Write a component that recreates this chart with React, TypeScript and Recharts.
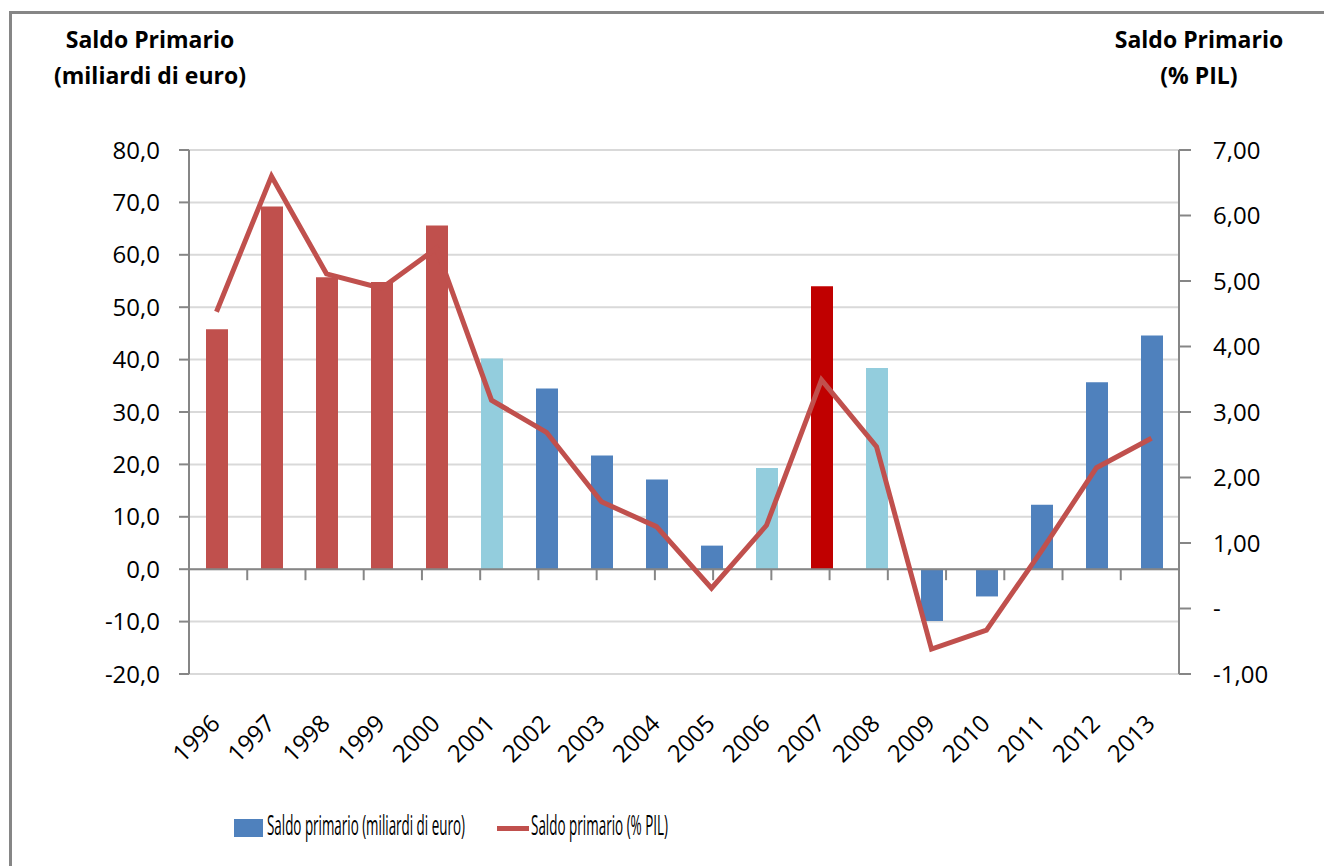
import React, { useLayoutEffect, useRef, useState } from "react";
import {
  ComposedChart,
  Bar,
  Line,
  XAxis,
  YAxis,
  CartesianGrid,
  ReferenceLine,
  Legend,
  Cell,
} from "recharts";

// Anni e valori
const years = [
  "1996", "1997", "1998", "1999", "2000", "2001", "2002", "2003", "2004",
  "2005", "2006", "2007", "2008", "2009", "2010", "2011", "2012", "2013",
];
const saldoMld = [
  45.8, 69.2, 55.7, 54.8, 65.6, 40.2, 34.5, 21.7, 17.1,
  4.5, 19.3, 54.0, 38.4, -9.9, -5.2, 12.3, 35.7, 44.6,
];
const saldoPil = [
  4.53, 6.6, 5.11, 4.89, 5.5, 3.18, 2.69, 1.63, 1.25,
  0.31, 1.27, 3.49, 2.47, -0.62, -0.33, 0.88, 2.15, 2.6,
];
// colore di ogni barra
const barGroup = [
  "r", "r", "r", "r", "r", "lb", "b", "b", "b",
  "b", "lb", "dr", "lb", "b", "b", "b", "b", "b",
];
const leftTicks = [-20, -10, 0, 10, 20, 30, 40, 50, 60, 70, 80];
const rightTicks = [-1, 0, 1, 2, 3, 4, 5, 6, 7];

const GROUP_COLORS: Record<string, string> = {
  r: "#c0504d",
  lb: "#93cddd",
  b: "#4f81bd",
  dr: "#c00000",
};
const LINE_COLOR = "#c0504d";
const AXIS_COLOR = "#868686";
const FONT = "'Open Sans', sans-serif";

const data = years.map((y, i) => ({ year: y, mld: saldoMld[i], pil: saldoPil[i] }));
const catBoundaries = years.map((_, i) => i).slice(1);

const fmtLeft = (v: number) => v.toFixed(1).replace(".", ",");
const fmtRight = (v: number) => (v === 0 ? "-" : v.toFixed(2).replace(".", ","));

const YearTick = (props: any) => {
  const { x, y, payload } = props;
  const ax = x + 5;
  const ay = y + 51;
  return (
    <text
      x={ax}
      y={ay}
      textAnchor="end"
      fontFamily={FONT}
      fontSize={24}
      fill="#000"
      transform={`rotate(-45, ${ax}, ${ay})`}
    >
      {payload.value}
    </text>
  );
};

// testo compresso orizzontalmente fino alla larghezza voluta
const SquishedText = ({ text, width, left }: { text: string; width: number; left: number }) => {
  const ref = useRef<HTMLSpanElement>(null);
  const [scale, setScale] = useState(1);
  useLayoutEffect(() => {
    if (ref.current) {
      const w = ref.current.offsetWidth;
      if (w > 0) setScale(width / w);
    }
  }, [text, width]);
  return (
    <span
      ref={ref}
      style={{
        position: "absolute",
        left,
        top: -4,
        display: "inline-block",
        whiteSpace: "nowrap",
        fontFamily: FONT,
        fontSize: 28,
        lineHeight: "32px",
        color: "#000",
        transform: `scaleX(${scale})`,
        transformOrigin: "0 0",
      }}
    >
      {text}
    </span>
  );
};

const renderLegend = () => (
  <div style={{ position: "relative", width: 470, height: 32 }}>
    <div
      style={{
        position: "absolute",
        left: 0,
        top: 7,
        width: 29,
        height: 18,
        background: GROUP_COLORS.b,
      }}
    />
    <SquishedText text="Saldo primario (miliardi di euro)" width={198} left={33} />
    <div
      style={{
        position: "absolute",
        left: 263,
        top: 14,
        width: 32,
        height: 5,
        background: LINE_COLOR,
      }}
    />
    <SquishedText text="Saldo primario (% PIL)" width={137} left={297} />
  </div>
);

const titleStyle: React.CSSProperties = {
  position: "absolute",
  fontFamily: FONT,
  fontWeight: 700,
  fontSize: 23,
  lineHeight: "36px",
  textAlign: "center",
  color: "#000",
  whiteSpace: "nowrap",
};

export default function App() {
  return (
    <div style={{ position: "relative", width: 1324, height: 858, overflow: "hidden", background: "#fff" }}>
      <div
        style={{
          position: "absolute",
          left: 1,
          top: 3,
          width: 1400,
          height: 1000,
          borderTop: `3px solid ${AXIS_COLOR}`,
          borderLeft: `3px solid ${AXIS_COLOR}`,
        }}
      />
      <div style={{ ...titleStyle, left: 22, top: 13, width: 240 }}>
        Saldo Primario
        <br />
        (miliardi di euro)
      </div>
      <div style={{ ...titleStyle, left: 1071, top: 13, width: 240 }}>
        Saldo Primario
        <br />
        (% PIL)
      </div>
      <div style={{ position: "absolute", left: 0, top: 0 }}>
        <ComposedChart
          width={1324}
          height={858}
          data={data}
          margin={{ top: 142, right: 53, left: 0, bottom: 92 }}
        >
          <CartesianGrid
            yAxisId="left"
            vertical={false}
            stroke="#d9d9d9"
            strokeWidth={2}
          />
          <XAxis
            xAxisId="cat"
            dataKey="year"
            type="category"
            axisLine={false}
            tickLine={false}
            tickSize={0}
            tickMargin={0}
            height={100}
            interval={0}
            tick={<YearTick />}
          />
          <XAxis xAxisId="num" type="number" domain={[0, years.length]} hide />
          <YAxis
            yAxisId="left"
            orientation="left"
            domain={[-20, 80]}
            ticks={leftTicks}
            interval={0}
            width={181}
            tickFormatter={fmtLeft}
            axisLine={{ stroke: AXIS_COLOR, strokeWidth: 2 }}
            tickLine={{ stroke: AXIS_COLOR, strokeWidth: 2 }}
            tickSize={10}
            tickMargin={19}
            tick={{ fill: "#000", fontSize: 24, fontFamily: FONT }}
          />
          <YAxis
            yAxisId="right"
            orientation="right"
            domain={[-1, 7]}
            ticks={rightTicks}
            interval={0}
            width={100}
            tickFormatter={fmtRight}
            axisLine={{ stroke: AXIS_COLOR, strokeWidth: 2 }}
            tickLine={{ stroke: AXIS_COLOR, strokeWidth: 2 }}
            tickSize={12}
            tickMargin={22}
            tick={{ fill: "#000", fontSize: 24, fontFamily: FONT, textAnchor: "start" }}
          />
          <Bar
            xAxisId="cat"
            yAxisId="left"
            dataKey="mld"
            name="Saldo primario (miliardi di euro)"
            barSize={22}
            isAnimationActive={false}
          >
            {data.map((d, i) => (
              <Cell key={d.year} fill={GROUP_COLORS[barGroup[i]]} />
            ))}
          </Bar>
          <ReferenceLine
            xAxisId="cat"
            yAxisId="left"
            y={0}
            stroke={AXIS_COLOR}
            strokeWidth={2}
          />
          {catBoundaries.map((b) => (
            <ReferenceLine
              key={b}
              xAxisId="num"
              yAxisId="left"
              segment={[
                { x: b, y: 0 },
                { x: b, y: -2.1 },
              ]}
              stroke={AXIS_COLOR}
              strokeWidth={2}
            />
          ))}
          <Line
            xAxisId="cat"
            yAxisId="right"
            type="linear"
            dataKey="pil"
            name="Saldo primario (% PIL)"
            stroke={LINE_COLOR}
            strokeWidth={5}
            dot={false}
            activeDot={false}
            isAnimationActive={false}
          />
          <Legend
            layout="vertical"
            align="center"
            verticalAlign="middle"
            content={renderLegend}
            wrapperStyle={{ left: 226, top: 804, width: 470, height: 32 }}
          />
        </ComposedChart>
      </div>
    </div>
  );
}
